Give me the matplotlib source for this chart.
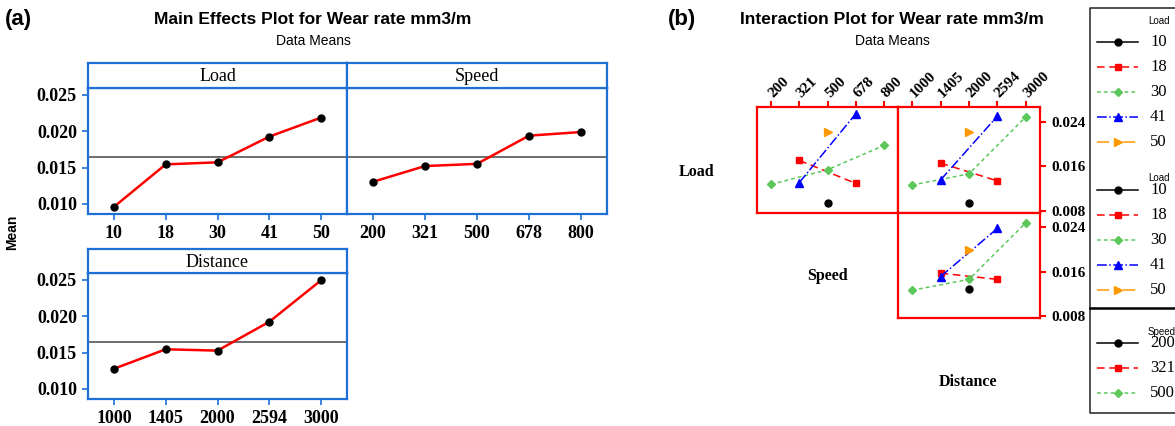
import numpy as np
import matplotlib
matplotlib.use("Agg")
import matplotlib.pyplot as plt
from matplotlib.lines import Line2D

W, H = 1175, 426

# main effects data (a)
load_levels = ["10", "18", "30", "41", "50"]
load_means = [0.00960, 0.01545, 0.01573, 0.01927, 0.02189]
speed_levels = ["200", "321", "500", "678", "800"]
speed_means = [0.01305, 0.01522, 0.01552, 0.01940, 0.01990]
dist_levels = ["1000", "1405", "2000", "2594", "3000"]
dist_means = [0.01278, 0.01546, 0.01528, 0.01925, 0.02496]
grand_mean = 0.01640

# interaction data (b), nan = no observation
nan = np.nan
load_x_speed = [
    [nan, nan, 0.00935, nan, nan],
    [nan, 0.01709, nan, 0.01296, nan],
    [0.01278, nan, 0.01540, nan, 0.01976],
    [nan, 0.01310, nan, 0.02543, nan],
    [nan, nan, 0.02218, nan, nan],
]
load_x_dist = [
    [nan, nan, 0.00935, nan, nan],
    [nan, 0.01660, nan, 0.01340, nan],
    [0.01267, nan, 0.01467, nan, 0.02490],
    [nan, 0.01358, nan, 0.02503, nan],
    [nan, nan, 0.02218, nan, nan],
]
speed_x_dist = [
    [nan, nan, 0.01290, nan, nan],
    [nan, 0.01570, nan, 0.01460, nan],
    [0.01266, nan, 0.01460, nan, 0.02470],
    [nan, 0.01510, nan, 0.02370, nan],
    [nan, nan, 0.01980, nan, nan],
]

BLUE = "#1e6fd6"
SERIF = "Liberation Serif"
SANS = "Liberation Sans"

series_styles = [
    dict(color="black", marker="o", ls="-", ms=5),
    dict(color="red", marker="s", ls=(0, (5, 3)), ms=5),
    dict(color="#5cc85c", marker="D", ls=(0, (2.5, 2)), ms=4.5),
    dict(color="blue", marker="^", ls="-.", ms=6),
    dict(color="#ff9900", marker=">", ls=(0, (8, 3, 3, 3)), ms=6),
]


def rect(x0, y0, x1, y1):
    # pixel box (top-left origin) -> figure fraction
    return [x0 / W, 1 - y1 / H, (x1 - x0) / W, (y1 - y0) / H]


fig = plt.figure(figsize=(W / 100, H / 100), dpi=100)


def main_effect(box, head, levels, means, name, left_labels):
    ax = fig.add_axes(rect(*box))
    x = np.arange(len(levels))
    ax.axhline(grand_mean, color="#555555", lw=1.2, zorder=1)
    ax.plot(x, means, color="red", lw=1.8, zorder=2)
    ax.plot(x, means, "o", color="black", ms=5, zorder=3)
    ax.set_xlim(-0.5, len(levels) - 0.5)
    ax.set_ylim(0.00862, 0.02596)
    ax.set_xticks(x)
    ax.set_xticklabels(levels, fontfamily=SERIF, fontweight="bold", fontsize=13)
    ax.set_yticks([0.010, 0.015, 0.020, 0.025])
    if left_labels:
        ax.set_yticklabels(["%.3f" % v for v in ax.get_yticks()],
                           fontfamily=SERIF, fontweight="bold", fontsize=13)
    else:
        ax.tick_params(axis="y", left=False, labelleft=False)
    ax.tick_params(axis="both", direction="out", length=4, width=1.2,
                   color=BLUE, pad=4)
    for s in ax.spines.values():
        s.set_color(BLUE)
        s.set_linewidth(1.6)
    hx = fig.add_axes(rect(*head))
    hx.set_xticks([])
    hx.set_yticks([])
    for s in hx.spines.values():
        s.set_color(BLUE)
        s.set_linewidth(1.6)
    hx.text(0.5, 0.45, name, ha="center", va="center", fontfamily=SERIF,
            fontsize=13, transform=hx.transAxes)
    return ax


main_effect((88, 88, 347, 214), (88, 63, 347, 88), load_levels, load_means, "Load", True)
main_effect((347, 88, 607, 214), (347, 63, 607, 88), speed_levels, speed_means, "Speed", False)
main_effect((88, 273, 347, 399), (88, 249, 347, 273), dist_levels, dist_means, "Distance", True)

fig.text(12 / W, 1 - 232 / H, "Mean", rotation=90, ha="center", va="center",
         fontfamily=SANS, fontweight="bold", fontsize=10)
fig.text(5 / W, 1 - 20 / H, "(a)", ha="left", va="center", fontfamily=SANS,
         fontweight="bold", fontsize=16)
fig.text(313 / W, 1 - 20 / H, "Main Effects Plot for Wear rate mm3/m", ha="center",
         va="center", fontfamily=SANS, fontweight="bold", fontsize=12.5)
fig.text(313 / W, 1 - 41 / H, "Data Means", ha="center", va="center",
         fontfamily=SANS, fontsize=10)


def interaction(box, table, ylim, top_levels, right_labels):
    ax = fig.add_axes(rect(*box))
    x = np.arange(5)
    for row, st in zip(table, series_styles):
        y = np.array(row, dtype=float)
        m = ~np.isnan(y)
        ax.plot(x[m], y[m], color=st["color"], ls=st["ls"], lw=1.1,
                marker=st["marker"], ms=st["ms"], clip_on=False)
    ax.set_xlim(-0.5, 4.5)
    ax.set_ylim(*ylim)
    if top_levels is not None:
        ax.xaxis.set_ticks_position("top")
        ax.set_xticks(x)
        ax.set_xticklabels(top_levels, rotation=45, ha="left", va="center",
                           rotation_mode="anchor", fontfamily=SERIF,
                           fontweight="bold", fontsize=11)
        ax.tick_params(axis="x", top=True, bottom=False, direction="out",
                       length=4, width=1.5, color="red", pad=4)
    else:
        ax.set_xticks([])
    ax.set_yticks([0.008, 0.016, 0.024])
    if right_labels:
        ax.yaxis.set_ticks_position("right")
        ax.set_yticklabels(["%.3f" % v for v in ax.get_yticks()],
                           fontfamily=SERIF, fontweight="bold", fontsize=11)
        ax.tick_params(axis="y", direction="out", length=4, width=1.5,
                       color="red", pad=4)
    else:
        ax.tick_params(axis="y", left=False, right=False,
                       labelleft=False, labelright=False)
    for s in ax.spines.values():
        s.set_color("red")
        s.set_linewidth(1.6)
    return ax


interaction((757, 107, 898, 213), load_x_speed, (0.00764, 0.02667), speed_levels, False)
interaction((898, 107, 1040, 213), load_x_dist, (0.00764, 0.02667), dist_levels, True)
interaction((898, 213, 1040, 318), speed_x_dist, (0.0077, 0.02645), None, True)

fig.text(697 / W, 1 - 172 / H, "Load", ha="center", va="center",
         fontfamily=SERIF, fontweight="bold", fontsize=11.5)
fig.text(827 / W, 1 - 276 / H, "Speed", ha="center", va="center",
         fontfamily=SERIF, fontweight="bold", fontsize=11.5)
fig.text(968 / W, 1 - 382 / H, "Distance", ha="center", va="center",
         fontfamily=SERIF, fontweight="bold", fontsize=11.5)
fig.text(668 / W, 1 - 20 / H, "(b)", ha="left", va="center", fontfamily=SANS,
         fontweight="bold", fontsize=16)
fig.text(892 / W, 1 - 20 / H, "Interaction Plot for Wear rate mm3/m", ha="center",
         va="center", fontfamily=SANS, fontweight="bold", fontsize=12.5)
fig.text(892 / W, 1 - 41 / H, "Data Means", ha="center", va="center",
         fontfamily=SANS, fontsize=10)

# legend panel (pixel coordinates, runs off the right edge like the source)
lg = fig.add_axes([0, 0, 1, 1], facecolor="none")
lg.set_xlim(0, W)
lg.set_ylim(H, 0)
lg.axis("off")
lg.plot([W + 5, 1090, 1090, W + 5], [8, 8, 413, 413], color="#333333", lw=1.2,
        clip_on=False)
lg.plot([1090, W + 5], [308, 308], color="black", lw=1.8, clip_on=False)

groups = [("Load", load_levels, 21, 42), ("Load", load_levels, 178, 190),
          ("Speed", speed_levels[:3], 332, 343)]
for title, levels, ty, y0 in groups:
    lg.text(1148, ty, title, ha="left", va="center", fontfamily=SANS, fontsize=7)
    for i, lev in enumerate(levels):
        st = series_styles[i]
        yy = y0 + 25 * i
        lg.add_line(Line2D([1097, 1138], [yy, yy], color=st["color"], ls=st["ls"],
                           lw=1.1))
        lg.add_line(Line2D([1118], [yy], color=st["color"], marker=st["marker"],
                           ms=st["ms"], ls="none"))
        lg.text(1150, yy, lev, ha="left", va="center", fontfamily=SERIF, fontsize=12)

fig.savefig("out.png", dpi=100)
